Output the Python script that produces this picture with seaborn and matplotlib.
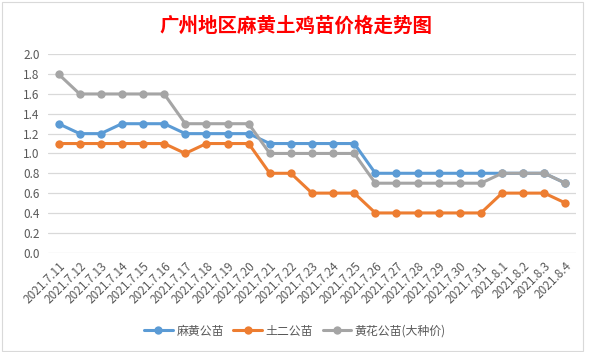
import matplotlib
matplotlib.use("Agg")
import matplotlib.pyplot as plt
import seaborn as sns
import pandas as pd
from matplotlib.patches import Rectangle

dates = ["2021.7.11", "2021.7.12", "2021.7.13", "2021.7.14", "2021.7.15", "2021.7.16",
         "2021.7.17", "2021.7.18", "2021.7.19", "2021.7.20", "2021.7.21", "2021.7.22",
         "2021.7.23", "2021.7.24", "2021.7.25", "2021.7.26", "2021.7.27", "2021.7.28",
         "2021.7.29", "2021.7.30", "2021.7.31", "2021.8.1", "2021.8.2", "2021.8.3", "2021.8.4"]
mahuang = [1.3, 1.2, 1.2, 1.3, 1.3, 1.3, 1.2, 1.2, 1.2, 1.2, 1.1, 1.1, 1.1, 1.1, 1.1,
           0.8, 0.8, 0.8, 0.8, 0.8, 0.8, 0.8, 0.8, 0.8, 0.7]
tuer = [1.1, 1.1, 1.1, 1.1, 1.1, 1.1, 1.0, 1.1, 1.1, 1.1, 0.8, 0.8, 0.6, 0.6, 0.6,
        0.4, 0.4, 0.4, 0.4, 0.4, 0.4, 0.6, 0.6, 0.6, 0.5]
huanghua = [1.8, 1.6, 1.6, 1.6, 1.6, 1.6, 1.3, 1.3, 1.3, 1.3, 1.0, 1.0, 1.0, 1.0, 1.0,
            0.7, 0.7, 0.7, 0.7, 0.7, 0.7, 0.8, 0.8, 0.8, 0.7]
series_names = ["麻黄公苗", "土二公苗", "黄花公苗(大种价)"]
colors = ["#5B9BD5", "#ED7D31", "#A5A5A5"]
yticks = [0.0, 0.2, 0.4, 0.6, 0.8, 1.0, 1.2, 1.4, 1.6, 1.8, 2.0]
title = "广州地区麻黄土鸡苗价格走势图"

rows = []
for name, vals in zip(series_names, [mahuang, tuer, huanghua]):
    for i, v in enumerate(vals):
        rows.append({"idx": i, "value": v, "series": name})
df = pd.DataFrame(rows)

sns.set_theme(style="white")
plt.rcParams["font.family"] = ["Noto Sans CJK SC", "DejaVu Sans"]

fig = plt.figure(figsize=(5.94, 3.52), dpi=100)
ax = fig.add_axes([48 / 594, 1 - 252.6 / 352, 528 / 594, 198.3 / 352])

sns.lineplot(data=df, x="idx", y="value", hue="series", hue_order=series_names,
             palette=colors, marker="o", markersize=6, markeredgewidth=0,
             linewidth=2.2, ax=ax, clip_on=False)

ax.set_xlim(-0.5, len(dates) - 0.5)
ax.set_ylim(0, 2.0)
ax.set_yticks(yticks)
ax.set_yticklabels([f"{t:.1f}" for t in yticks])
ax.set_xticks(range(len(dates)))
ax.set_xticklabels(dates, rotation=45, ha="right", rotation_mode="anchor")
ax.tick_params(axis="both", colors="#595959", labelsize=8.5, length=0)
ax.tick_params(axis="x", pad=5)
ax.tick_params(axis="y", pad=6)
ax.yaxis.grid(True, color="#D9D9D9", linewidth=0.9)
ax.set_axisbelow(True)
for s in ax.spines.values():
    s.set_visible(False)
ax.set_xlabel("")
ax.set_ylabel("")

handles, labels = ax.get_legend_handles_labels()
ax.legend(handles, labels, loc="center", bbox_to_anchor=(295 / 594, 1 - 331 / 352),
          bbox_transform=fig.transFigure, ncol=3, frameon=False, fontsize=8.6,
          handlelength=2.4, columnspacing=0.8, handletextpad=0.3,
          labelcolor="#595959")

fig.text(296 / 594, 1 - 26 / 352, title, ha="center", va="center", color="#FF0000",
         fontsize=14, fontweight="bold")

fig.patches.append(Rectangle((2 / 594, 1 / 352), 581 / 594, 349 / 352,
                             transform=fig.transFigure, fill=False,
                             edgecolor="#D9D9D9", linewidth=0.8))

fig.savefig("out.png", dpi=100, facecolor="white")
